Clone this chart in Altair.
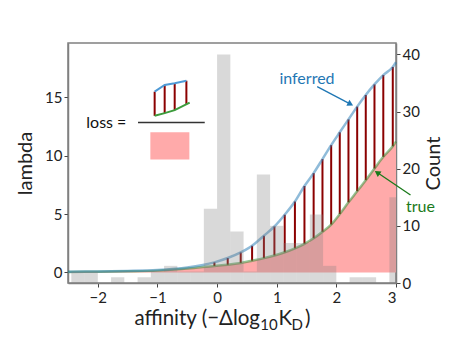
import altair as alt
import pandas as pd

# ---------------- data ----------------
# histogram (right axis, Count): bins of width 2/9 starting at k*2/9
bin_k = list(range(-12, 14))
counts = [0, 2, 2, 0, 1, 0, 1, 2, 3, 2, 2, 13, 40, 9, 2, 19, 10, 7, 7, 12, 3, 0, 1, 1, 0, 15]
bin_w = 2 / 9

# curves (left axis, lambda)
curve_x = [-2.5, -2.0, -1.5, -1.0, -0.5, -0.045, 0.178, 0.396, 0.587, 0.785, 0.961,
           1.134, 1.305, 1.465, 1.619, 1.767, 1.913, 2.057, 2.203, 2.349, 2.493,
           2.639, 2.787, 2.946, 3.0]
inferred = [0.05, 0.08, 0.12, 0.2, 0.42, 0.86, 1.23, 1.71, 2.28, 3.14, 3.93,
            4.94, 6.07, 7.4, 8.5, 9.7, 10.9, 12.0, 13.1, 14.2, 15.2,
            16.1, 16.9, 17.6, 18.0]
true_vals = [0.04, 0.06, 0.09, 0.15, 0.33, 0.55, 0.65, 0.8, 1.0, 1.22, 1.45,
             1.72, 2.06, 2.45, 2.92, 3.48, 4.1, 5.0, 6.0, 6.95, 7.9,
             8.9, 9.9, 10.8, 11.2]
seg_first, seg_last = 5, 23  # red segments drawn at these curve points

# inset "loss =" sketch
inset_x = [-1.047, -0.879, -0.711, -0.515]
inset_hi = [15.48, 16.06, 16.2, 16.42]
inset_lo = [13.41, 13.64, 13.9, 14.4]
inset_green_x = [-1.047, -0.879, -0.711, -0.46]
inset_green = [13.41, 13.64, 13.9, 14.54]
frac_x = [-1.326, -0.207]
frac_y = 12.83
rect_x = [-1.119, -0.465]
rect_y = [9.67, 12.01]
loss_pos = [-1.857, 12.8]

# annotations
inferred_label = [1.507, 16.57]
inferred_arrow = [1.678, 15.91, 2.237, 14.42]
true_label = [3.411, 5.62]
true_arrow = [3.243, 6.63, 2.685, 8.55]

# ---------------- tables ----------------
hist_df = pd.DataFrame({
    "x": [k * bin_w for k in bin_k],
    "x_end": [(k + 1) * bin_w for k in bin_k],
    "count": counts,
})
curve_df = pd.DataFrame({"x": curve_x, "inferred": inferred, "true": true_vals,
                         "zero": [0.0] * len(curve_x)})
seg_df = curve_df.iloc[seg_first:seg_last + 1]
inset_seg_df = pd.DataFrame({"x": inset_x, "hi": inset_hi, "lo": inset_lo})
inset_blue_df = pd.DataFrame({"x": inset_x, "lam": inset_hi})
inset_green_df = pd.DataFrame({"x": inset_green_x, "lam": inset_green})
frac_df = pd.DataFrame({"x": [frac_x[0]], "x2": [frac_x[1]], "lam": [frac_y]})
rect_df = pd.DataFrame({"x": [rect_x[0]], "x2": [rect_x[1]], "lam": [rect_y[0]], "lam2": [rect_y[1]]})
loss_df = pd.DataFrame({"x": [loss_pos[0]], "lam": [loss_pos[1]], "t": ["loss ="]})
inf_lab_df = pd.DataFrame({"x": [inferred_label[0]], "lam": [inferred_label[1]], "t": ["inferred"]})
true_lab_df = pd.DataFrame({"x": [true_label[0]], "lam": [true_label[1]], "t": ["true"]})
inf_arr_df = pd.DataFrame({"x": [inferred_arrow[0]], "lam": [inferred_arrow[1]],
                           "x2": [inferred_arrow[2]], "lam2": [inferred_arrow[3]]})
true_arr_df = pd.DataFrame({"x": [true_arrow[0]], "lam": [true_arrow[1]],
                            "x2": [true_arrow[2]], "lam2": [true_arrow[3]]})

# ---------------- scales / axes ----------------
xs = alt.Scale(domain=[-2.5, 3], nice=False, zero=False)
x_axis = alt.Axis(values=[-2, -1, 0, 1, 2, 3], title=None,
                  labelExpr="replace(datum.label, '-', '\u2212')",
                  tickSize=4, labelPadding=3)
ys = alt.Scale(domain=[-0.91, 19.65], nice=False, zero=False)
y_axis = alt.Axis(values=[0, 5, 10, 15], title="lambda", orient="left",
                  titlePadding=9, labelPadding=2, tickSize=4)


def X(f="x"):
    return alt.X(f"{f}:Q", scale=xs, axis=x_axis)


def Y(f="lam"):
    return alt.Y(f"{f}:Q", scale=ys, axis=y_axis)


BLUE_LINE = "#1f77b4"
GREEN_LINE = "#2a8a2a"

area = alt.Chart(curve_df).mark_area(color="#ffaaaa", interpolate="monotone").encode(
    x=X(), y=Y("true"), y2="zero:Q")
segs = alt.Chart(seg_df).mark_rule(color="#8b0000", strokeWidth=2).encode(
    x=X(), y=Y("true"), y2="inferred:Q")
green = alt.Chart(curve_df).mark_line(color=GREEN_LINE, opacity=0.5, strokeWidth=2.5,
                                      interpolate="monotone").encode(x=X(), y=Y("true"))
blue = alt.Chart(curve_df).mark_line(color=BLUE_LINE, opacity=0.5, strokeWidth=2.5,
                                     interpolate="monotone").encode(x=X(), y=Y("inferred"))

ins_rect = alt.Chart(rect_df).mark_rect(color="#ffaaaa").encode(
    x=X(), x2="x2:Q", y=Y(), y2="lam2:Q")
ins_frac = alt.Chart(frac_df).mark_rule(color="#333333", strokeWidth=1.5).encode(
    x=X(), x2="x2:Q", y=Y())
ins_segs = alt.Chart(inset_seg_df).mark_rule(color="#8b0000", strokeWidth=2).encode(
    x=X(), y=Y("lo"), y2="hi:Q")
ins_blue = alt.Chart(inset_blue_df).mark_line(color="#4e9ad6", strokeWidth=2).encode(x=X(), y=Y())
ins_green = alt.Chart(inset_green_df).mark_line(color="#3c9c3c", strokeWidth=2).encode(x=X(), y=Y())
loss_txt = alt.Chart(loss_df).mark_text(fontSize=16, color="#111111", align="center",
                                        baseline="middle").encode(x=X(), y=Y(), text="t:N")

inf_txt = alt.Chart(inf_lab_df).mark_text(fontSize=16, color="#1f77b4", align="center",
                                          baseline="middle").encode(x=X(), y=Y(), text="t:N")
true_txt = alt.Chart(true_lab_df).mark_text(fontSize=16, color="#1a7a1a", align="center",
                                            baseline="middle").encode(x=X(), y=Y(), text="t:N")
inf_arr = alt.Chart(inf_arr_df).mark_rule(color="#1f77b4", strokeWidth=1.3).encode(
    x=X(), y=Y(), x2="x2:Q", y2="lam2:Q")
inf_head = alt.Chart(inf_arr_df).mark_point(shape="triangle-right", filled=True, size=45,
                                            angle=27.5, color="#1f77b4", opacity=1).encode(
    x=X("x2"), y=Y("lam2"))
true_arr = alt.Chart(true_arr_df).mark_rule(color="#1a7a1a", strokeWidth=1.3).encode(
    x=X(), y=Y(), x2="x2:Q", y2="lam2:Q")
true_head = alt.Chart(true_arr_df).mark_point(shape="triangle-right", filled=True, size=45,
                                              angle=213.8, color="#1a7a1a", opacity=1).encode(
    x=X("x2"), y=Y("lam2"))

# x axis title with subscripts, built from text pieces (pixel offsets in plot frame)
title_pieces = [("affinity (\u2212\u0394log", 192, 282, 20.5, "right"),
                ("10", 192.3, 287, 15, "left"),
                ("K", 210.5, 282, 20.5, "left"),
                ("D", 223.5, 287, 15, "left"),
                (")", 237, 282, 20.5, "left")]
title_layers = []
for txt, px, py, fs, al in title_pieces:
    title_layers.append(
        alt.Chart(pd.DataFrame({"t": [txt]})).mark_text(
            fontSize=fs, color="#222222", align=al, baseline="alphabetic").encode(
            x=alt.value(px), y=alt.value(py), text="t:N"))

lam_layer = alt.layer(area, segs, green, blue, ins_rect, ins_frac, ins_segs, ins_blue,
                      ins_green, loss_txt, inf_txt, true_txt, inf_arr, inf_head,
                      true_arr, true_head, *title_layers)

hist = alt.Chart(hist_df).mark_rect(color="#808080", opacity=0.3, clip=True).encode(
    x=X(), x2="x_end:Q",
    y=alt.Y("count:Q", scale=alt.Scale(domain=[0, 42], nice=False, zero=False),
            axis=alt.Axis(values=[0, 10, 20, 30, 40], title="Count", orient="right",
                          titleAngle=270, titleBaseline="top", titlePadding=4,
                          labelPadding=2, tickSize=4)),
    y2=alt.datum(0))

chart = alt.layer(lam_layer, hist).resolve_scale(y="independent").properties(
    width=328, height=240,
    padding={"left": 60, "top": 35, "right": 57, "bottom": 55},
    autosize=alt.AutoSizeParams(type="none"),
).configure(font="Lato").configure_view(
    stroke="#808080", strokeWidth=1.5
).configure_axis(
    domainColor="#808080", domainWidth=1.5, tickColor="#444444", grid=False,
    labelFont="Lato", labelFontSize=15, labelColor="#222222",
    titleFont="Lato", titleFontSize=20, titleFontWeight="normal", titleColor="#222222",
)

chart.save("out.html", embed_options={"renderer": "svg", "actions": False})
